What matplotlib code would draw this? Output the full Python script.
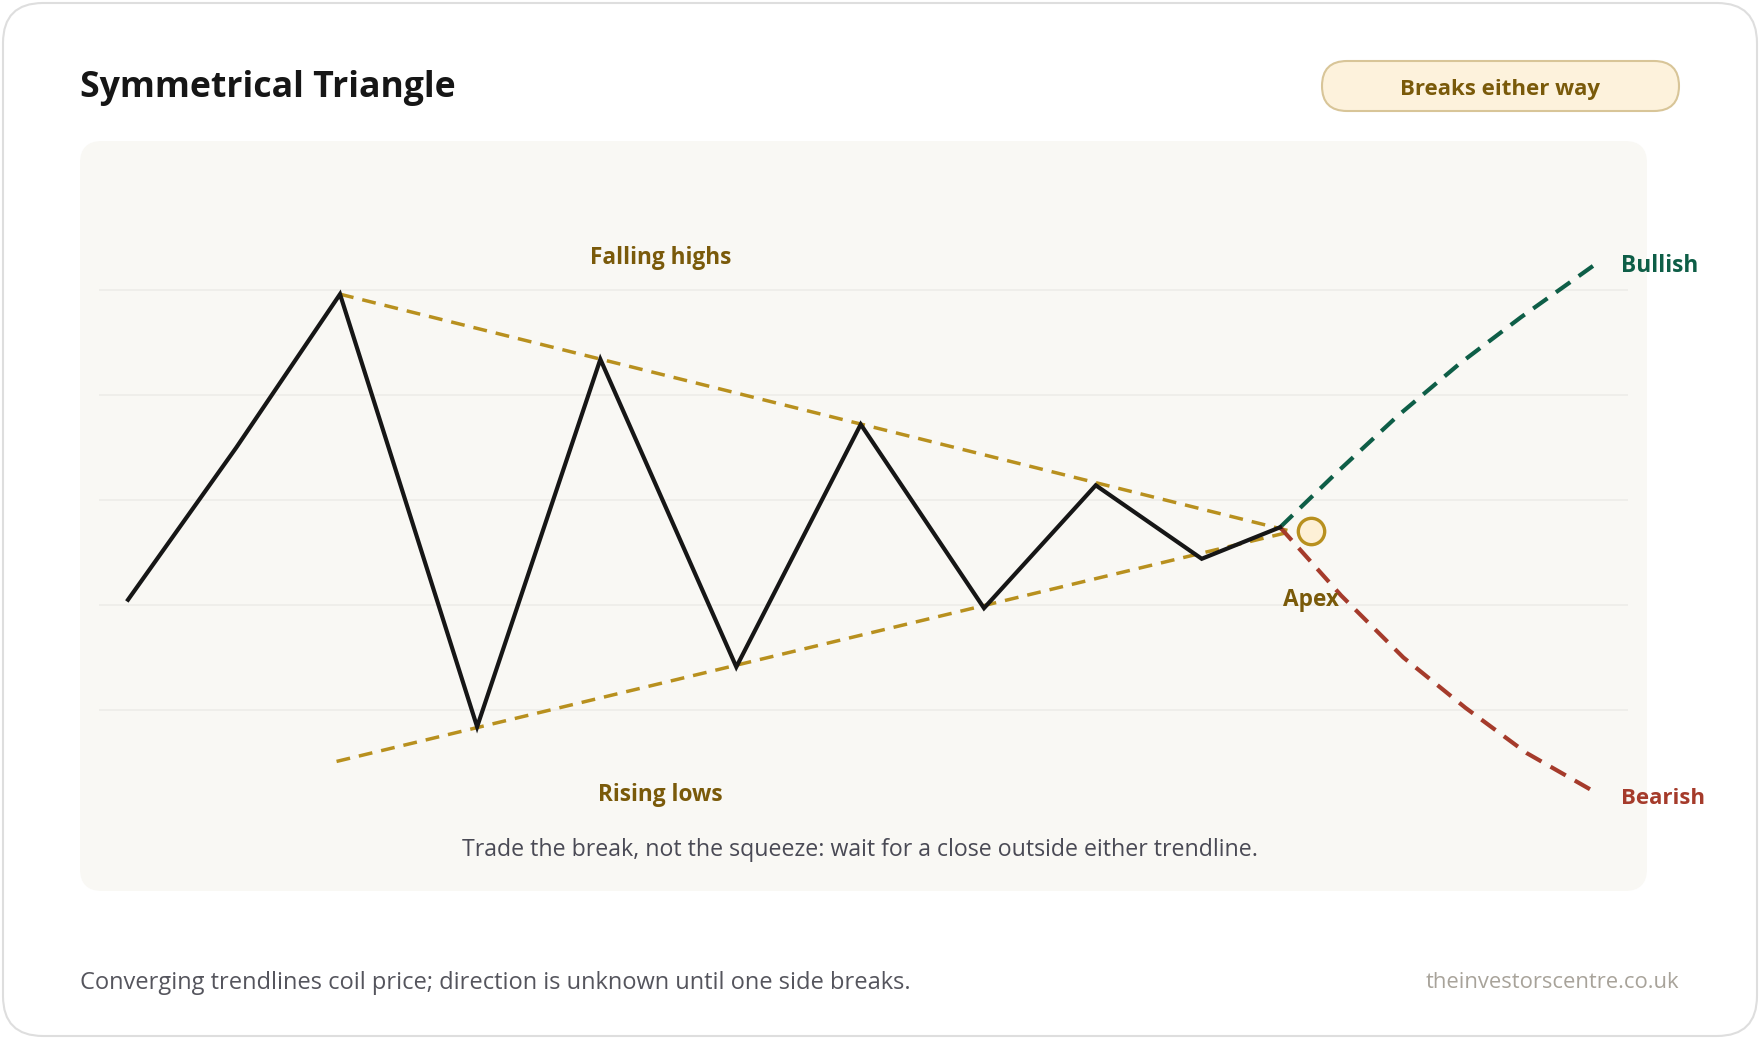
import numpy as np
import matplotlib.pyplot as plt
from matplotlib.patches import FancyBboxPatch

plt.rcParams['font.family'] = ['Open Sans', 'DejaVu Sans']

# price path (session index, price)
px = [0, 9.4, 18.4, 30.3, 41.0, 52.8, 63.6, 74.3, 84.0, 93.2, 100.0]
py = [70.5, 85.0, 99.6, 58.4, 93.4, 64.1, 87.2, 69.7, 81.4, 74.4, 77.4]

# trendlines
upper_x = [18.4, 101.0]
upper_y = [99.6, 77.0]
lower_x = [18.1, 101.0]
lower_y = [55.1, 77.0]
apex = (102.7, 77.0)

# breakout scenarios
bull_x = [100.0, 105.0, 110.2, 115.6, 120.9, 127.3]
bull_y = [77.4, 82.7, 88.0, 93.0, 97.4, 102.4]
bear_x = [100.0, 105.3, 110.7, 116.1, 121.4, 127.3]
bear_y = [77.4, 70.9, 65.0, 60.2, 55.9, 52.2]

grid_levels = [60, 70, 80, 90, 100]

GOLD = '#b8901e'
LABEL = '#7a5a0a'
GREEN = '#0e5e47'
RED = '#a53b2b'

fig = plt.figure(figsize=(17.6, 10.4), dpi=100)
fig.patch.set_facecolor('white')

# background layer in pixel coordinates
bg = fig.add_axes([0, 0, 1, 1])
bg.set_xlim(0, 1760)
bg.set_ylim(1040, 0)
bg.axis('off')
bg.add_patch(FancyBboxPatch((3, 3), 1754, 1033, boxstyle='round,pad=0,rounding_size=40',
                            fc='white', ec='#dedede', lw=1.5))
bg.add_patch(FancyBboxPatch((80, 141), 1567, 750, boxstyle='round,pad=0,rounding_size=22',
                            fc='#f9f8f4', ec='none'))
bg.add_patch(FancyBboxPatch((1322, 61), 357, 50, boxstyle='round,pad=0,rounding_size=25',
                            fc='#fdf2dc', ec='#d8c598', lw=1.5))
bg.text(80, 88, 'Symmetrical Triangle', fontsize=25.7, fontweight='bold', color='#161616',
        ha='left', va='center')
bg.text(1500, 89, 'Breaks either way', fontsize=16, fontweight='bold', color=LABEL,
        ha='center', va='center')
bg.text(860, 850, 'Trade the break, not the squeeze: wait for a close outside either trendline.',
        fontsize=16.7, color='#4a4a55', ha='center', va='center')
bg.text(80, 983, 'Converging trendlines coil price; direction is unknown until one side breaks.',
        fontsize=17, color='#55555d', ha='left', va='center')
bg.text(1679, 983, 'theinvestorscentre.co.uk', fontsize=15.8, color='#a8a39a',
        ha='right', va='center')

# chart layer
ax = fig.add_axes([99 / 1760, 1 - 891 / 1040, 1529 / 1760, 750 / 1040])
ax.set_xlim(-2.52, 130.2)
ax.set_ylim(42.76, 114.19)
ax.axis('off')

for g in grid_levels:
    ax.axhline(g, color='#eeede8', lw=1.2, zorder=1)

ax.plot(upper_x, upper_y, color=GOLD, lw=2.5, ls=(0, (4.0, 2.6)), zorder=2)
ax.plot(lower_x, lower_y, color=GOLD, lw=2.5, ls=(0, (4.0, 2.6)), zorder=2)
ax.plot(bull_x, bull_y, color=GREEN, lw=3.0, ls=(0, (4.2, 2.5)), zorder=3)
ax.plot(bear_x, bear_y, color=RED, lw=3.0, ls=(0, (4.2, 2.5)), zorder=3)
ax.plot(px, py, color='#161616', lw=3.0, solid_joinstyle='miter', zorder=4)

ax.plot(*apex, 'o', ms=19, mfc='#fdf0d6', mec=GOLD, mew=2.4, zorder=5)

ax.text(46.2, 103.0, 'Falling highs', fontsize=16.3, fontweight='bold', color=LABEL,
        ha='center', va='center')
ax.text(46.2, 51.9, 'Rising lows', fontsize=16.3, fontweight='bold', color=LABEL,
        ha='center', va='center')
ax.annotate('Apex', apex, xytext=(0, -49), textcoords='offset points', fontsize=16.3,
            fontweight='bold', color=LABEL, ha='center', va='center')
ax.annotate('Bullish', (bull_x[-1], bull_y[-1]), xytext=(19, -1), textcoords='offset points',
            fontsize=16.3, fontweight='bold', color=GREEN, ha='left', va='center',
            annotation_clip=False)
ax.annotate('Bearish', (bear_x[-1], bear_y[-1]), xytext=(19, -5), textcoords='offset points',
            fontsize=16, fontweight='bold', color=RED, ha='left', va='center',
            annotation_clip=False)

fig.savefig('out.png', dpi=100)
